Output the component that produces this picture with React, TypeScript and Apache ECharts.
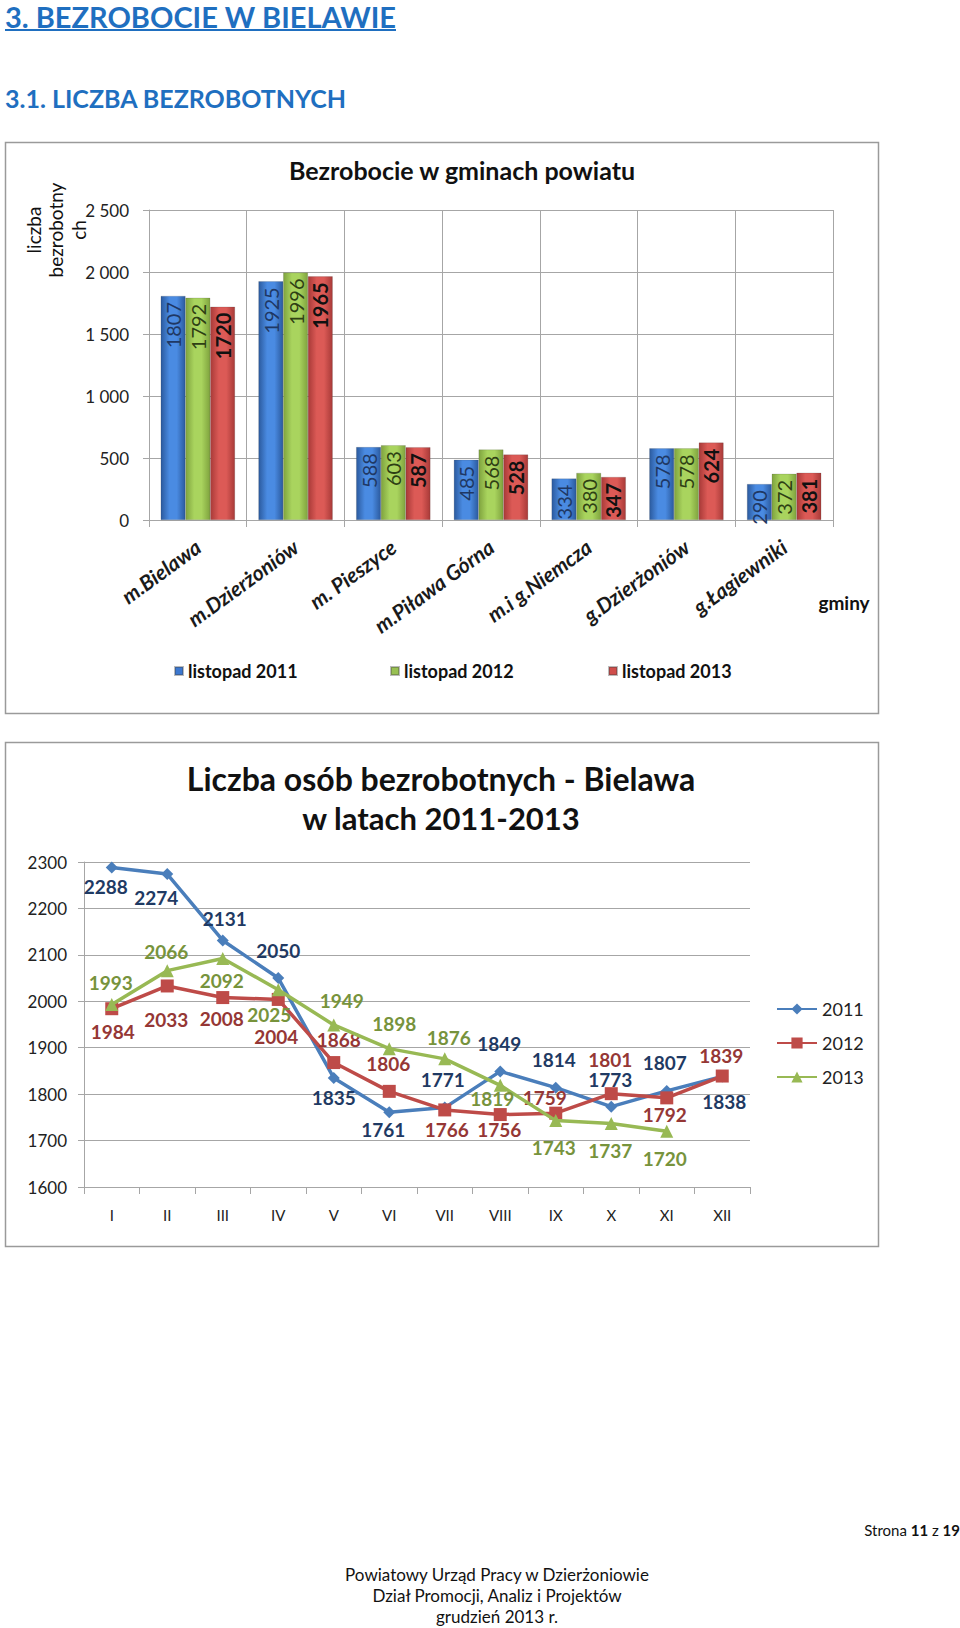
import React, { useEffect, useRef } from 'react';
import * as echarts from 'echarts';

// ---------- Data ----------
const gminy = ['m.Bielawa', 'm.Dzierżoniów', 'm. Pieszyce', 'm.Piława Górna', 'm.i g.Niemcza', 'g.Dzierżoniów', 'g.Łagiewniki'];
const barSeriesNames = ['listopad 2011', 'listopad 2012', 'listopad 2013'];
const bars2011 = [1807, 1925, 588, 485, 334, 578, 290];
const bars2012 = [1792, 1996, 603, 568, 380, 578, 372];
const bars2013 = [1720, 1965, 587, 528, 347, 624, 381];

const months = ['I', 'II', 'III', 'IV', 'V', 'VI', 'VII', 'VIII', 'IX', 'X', 'XI', 'XII'];
const lineSeriesNames = ['2011', '2012', '2013'];
const line2011 = [2288, 2274, 2131, 2050, 1835, 1761, 1771, 1849, 1814, 1773, 1807, 1838];
const line2012 = [1984, 2033, 2008, 2004, 1868, 1806, 1766, 1756, 1759, 1801, 1792, 1839];
const line2013 = [1993, 2066, 2092, 2025, 1949, 1898, 1876, 1819, 1743, 1737, 1720, null];

// label offsets (styling) for the line chart data labels
const off2011 = [[-6, 19], [-11, 23], [2, -22], [0, -28], [0, 20], [-6, 17], [-2, -28], [-1, -28], [-2, -28], [-1, -27], [-2, -28], [2, 25]];
const off2012 = [[1, 23], [-1, 34], [-1, 21], [-2, 37], [5, -23], [-1, -28], [2, 20], [-1, 15], [-11, -16], [-1, -34], [-2, 17], [-1, -21]];
const off2013 = [[-1, -22], [-1, -19], [-1, 22], [-9, 25], [8, -24], [5, -25], [4, -21], [-8, 13], [-2, 27], [-1, 27], [-2, 27], [0, 0]];

const FONT = 'Lato, "Open Sans", sans-serif';

function gradient(edge: string, mid: string) {
  return new echarts.graphic.LinearGradient(0, 0, 1, 0, [
    { offset: 0, color: edge },
    { offset: 0.35, color: mid },
    { offset: 0.65, color: mid },
    { offset: 1, color: edge },
  ]);
}

function fmtThousands(v: number) {
  if (v >= 1000) {
    const t = Math.floor(v / 1000);
    const r = String(v % 1000).padStart(3, '0');
    return t + ' ' + r;
  }
  return String(v);
}

export default function App() {
  const ref = useRef<HTMLDivElement>(null);

  useEffect(() => {
    if (!ref.current) return;
    const chart = echarts.init(ref.current, undefined, { renderer: 'svg' });

    const barColors = [
      { fill: gradient('#2B5A9E', '#4A8BE2'), label: '#1F3864', bold: 'normal', legend: '#3C78D0' },
      { fill: gradient('#7FA33E', '#A9D45E'), label: '#2E3F14', bold: 'normal', legend: '#98C052' },
      { fill: gradient('#A83A38', '#DC5A56'), label: '#111111', bold: 'bold', legend: '#D04E4B' },
    ];
    const barData = [bars2011, bars2012, bars2013];

    const lineColors = ['#4A7EBB', '#BE4B48', '#98B954'];
    const lineLabelColors = ['#1F3A63', '#953735', '#77933C'];
    const lineSymbols = ['diamond', 'rect', 'triangle'];
    const lineSizes = [12, 13, 13];
    const lineData = [line2011, line2012, line2013];
    const lineOffsets = [off2011, off2012, off2013];

    const barSeries = barData.map((d, i) => ({
      name: barSeriesNames[i],
      type: 'bar',
      xAxisIndex: 0,
      yAxisIndex: 0,
      data: d,
      barGap: '0%',
      barCategoryGap: '24%',
      itemStyle: { color: barColors[i].fill, borderColor: 'rgba(60,60,60,0.35)', borderWidth: 0.5 },
      label: {
        show: true,
        position: 'insideTop',
        rotate: 90,
        align: 'right',
        verticalAlign: 'middle',
        distance: 6,
        fontFamily: FONT,
        fontSize: 20,
        fontWeight: barColors[i].bold,
        color: barColors[i].label,
      },
    }));

    const lineSeries = lineData.map((d, i) => ({
      name: lineSeriesNames[i],
      type: 'line',
      xAxisIndex: 1,
      yAxisIndex: 1,
      symbol: lineSymbols[i],
      symbolSize: lineSizes[i],
      showAllSymbol: true,
      lineStyle: { color: lineColors[i], width: 3.5 },
      itemStyle: { color: lineColors[i] },
      data: d.map((v, j) => ({
        value: v === null ? '-' : v,
        label: { offset: lineOffsets[i][j] },
      })),
      label: {
        show: true,
        position: 'inside',
        align: 'center',
        verticalAlign: 'middle',
        fontFamily: FONT,
        fontSize: 19,
        fontWeight: 'bold',
        color: lineLabelColors[i],
      },
      z: 3 + i,
    }));

    const gray = '#A6A6A6';

    chart.setOption({
      animation: false,
      textStyle: { fontFamily: FONT },
      grid: [
        { left: 149, right: 127, top: 210, bottom: 1108, containLabel: false },
        { left: 84, right: 210, top: 862, bottom: 441, containLabel: false },
      ],
      xAxis: [
        {
          type: 'category',
          gridIndex: 0,
          data: gminy,
          axisLine: { show: true, lineStyle: { color: gray, width: 1 } },
          axisTick: { show: true, length: 7, lineStyle: { color: gray } },
          splitLine: { show: true, showMinLine: true, showMaxLine: true, lineStyle: { color: gray, width: 1 } },
          axisLabel: {
            interval: 0,
            rotate: 36,
            margin: 24,
            fontFamily: FONT,
            fontSize: 21,
            fontWeight: 'bold',
            fontStyle: 'italic',
            color: '#1a1a1a',
          },
        },
        {
          type: 'category',
          gridIndex: 1,
          data: months,
          axisLine: { show: true, lineStyle: { color: gray, width: 1 } },
          axisTick: { show: true, length: 7, lineStyle: { color: gray } },
          splitLine: { show: false },
          axisLabel: { interval: 0, margin: 20, fontFamily: FONT, fontSize: 15, color: '#222' },
        },
      ],
      yAxis: [
        {
          type: 'value',
          gridIndex: 0,
          min: 0,
          max: 2500,
          interval: 500,
          axisLine: { show: true, lineStyle: { color: gray } },
          axisTick: { show: true, length: 6, lineStyle: { color: gray } },
          splitLine: { show: true, lineStyle: { color: gray, width: 1 } },
          axisLabel: { margin: 20, fontFamily: FONT, fontSize: 17, color: '#222', formatter: (v: number) => fmtThousands(v) },
        },
        {
          type: 'value',
          gridIndex: 1,
          min: 1600,
          max: 2300,
          interval: 100,
          axisLine: { show: true, lineStyle: { color: gray } },
          axisTick: { show: true, length: 6, lineStyle: { color: gray } },
          splitLine: { show: true, lineStyle: { color: gray, width: 1 } },
          axisLabel: { margin: 17, fontFamily: FONT, fontSize: 17, color: '#222', formatter: (v: number) => String(v) },
        },
      ],
      legend: [
        ...barSeriesNames.map((n, i) => ({
          data: [{ name: n, itemStyle: { color: barColors[i].legend } }],
          left: [169, 385, 603][i],
          top: 657,
          icon: 'rect',
          itemWidth: 8,
          itemHeight: 8,
          itemGap: 5,
          textStyle: { fontFamily: FONT, fontSize: 18, fontWeight: 'bold', color: '#111' },
        })),
        {
          data: lineSeriesNames,
          orient: 'vertical',
          left: 771,
          top: 995,
          itemWidth: 40,
          itemHeight: 14,
          itemGap: 16,
          textStyle: { fontFamily: FONT, fontSize: 18, color: '#222' },
        },
      ],
      series: [...barSeries, ...lineSeries],
      graphic: [
        // headings
        {
          type: 'text', x: 5, y: 16,
          style: { text: '3. BEZROBOCIE W BIELAWIE', fontFamily: FONT, fontSize: 29, fontWeight: 'bold', fill: '#1F6FC0', align: 'left', verticalAlign: 'middle' },
        },
        { type: 'rect', shape: { x: 5, y: 29, width: 391, height: 2 }, style: { fill: '#1F6FC0' } },
        {
          type: 'text', x: 5, y: 98,
          style: { text: '3.1. LICZBA BEZROBOTNYCH', fontFamily: FONT, fontSize: 25, fontWeight: 'bold', fill: '#1F6FC0', align: 'left', verticalAlign: 'middle' },
        },
        // chart boxes
        { type: 'rect', shape: { x: 5.5, y: 142.5, width: 873, height: 571 }, style: { fill: 'none', stroke: '#9A9A9A', lineWidth: 1.5 }, z: -1 },
        { type: 'rect', shape: { x: 5.5, y: 742.5, width: 873, height: 504 }, style: { fill: 'none', stroke: '#9A9A9A', lineWidth: 1.5 }, z: -1 },
        // chart 1 title
        {
          type: 'text', x: 462, y: 170,
          style: { text: 'Bezrobocie w gminach powiatu', fontFamily: FONT, fontSize: 25, fontWeight: 'bold', fill: '#111', align: 'center', verticalAlign: 'middle' },
        },
        // y-axis name (3 lines, rotated)
        { type: 'text', x: 33, y: 230, rotation: Math.PI / 2, style: { text: 'liczba', fontFamily: FONT, fontSize: 19, fill: '#111', align: 'center', verticalAlign: 'middle' } },
        { type: 'text', x: 55, y: 230, rotation: Math.PI / 2, style: { text: 'bezrobotny', fontFamily: FONT, fontSize: 19, fill: '#111', align: 'center', verticalAlign: 'middle' } },
        { type: 'text', x: 78, y: 230, rotation: Math.PI / 2, style: { text: 'ch', fontFamily: FONT, fontSize: 19, fill: '#111', align: 'center', verticalAlign: 'middle' } },
        // x-axis name
        { type: 'text', x: 844, y: 602, style: { text: 'gminy', fontFamily: FONT, fontSize: 19, fontWeight: 'bold', fill: '#111', align: 'center', verticalAlign: 'middle' } },
        // chart 2 title
        {
          type: 'text', x: 441, y: 778,
          style: { text: 'Liczba osób bezrobotnych - Bielawa', fontFamily: FONT, fontSize: 32, fontWeight: 'bold', fill: '#111', align: 'center', verticalAlign: 'middle' },
        },
        {
          type: 'text', x: 441, y: 818,
          style: { text: 'w latach 2011-2013', fontFamily: FONT, fontSize: 31, fontWeight: 'bold', fill: '#111', align: 'center', verticalAlign: 'middle' },
        },
        // footer
        {
          type: 'text', x: 960, y: 1530,
          style: {
            text: 'Strona {b|11} z {b|19}',
            fontFamily: FONT, fontSize: 15, fill: '#111', align: 'right', verticalAlign: 'middle',
            rich: { b: { fontFamily: FONT, fontSize: 15, fontWeight: 'bold', fill: '#111' } },
          },
        },
        { type: 'text', x: 497, y: 1574, style: { text: 'Powiatowy Urząd Pracy w Dzierżoniowie', fontFamily: FONT, fontSize: 17, fill: '#111', align: 'center', verticalAlign: 'middle' } },
        { type: 'text', x: 497, y: 1595, style: { text: 'Dział Promocji, Analiz i Projektów', fontFamily: FONT, fontSize: 17, fill: '#111', align: 'center', verticalAlign: 'middle' } },
        { type: 'text', x: 497, y: 1616, style: { text: 'grudzień 2013 r.', fontFamily: FONT, fontSize: 17, fill: '#111', align: 'center', verticalAlign: 'middle' } },
      ],
    });

    return () => {
      chart.dispose();
    };
  }, []);

  return (
    <div
      ref={ref}
      style={{ position: 'absolute', left: 0, top: 0, width: 960, height: 1628, background: '#fff' }}
    />
  );
}
